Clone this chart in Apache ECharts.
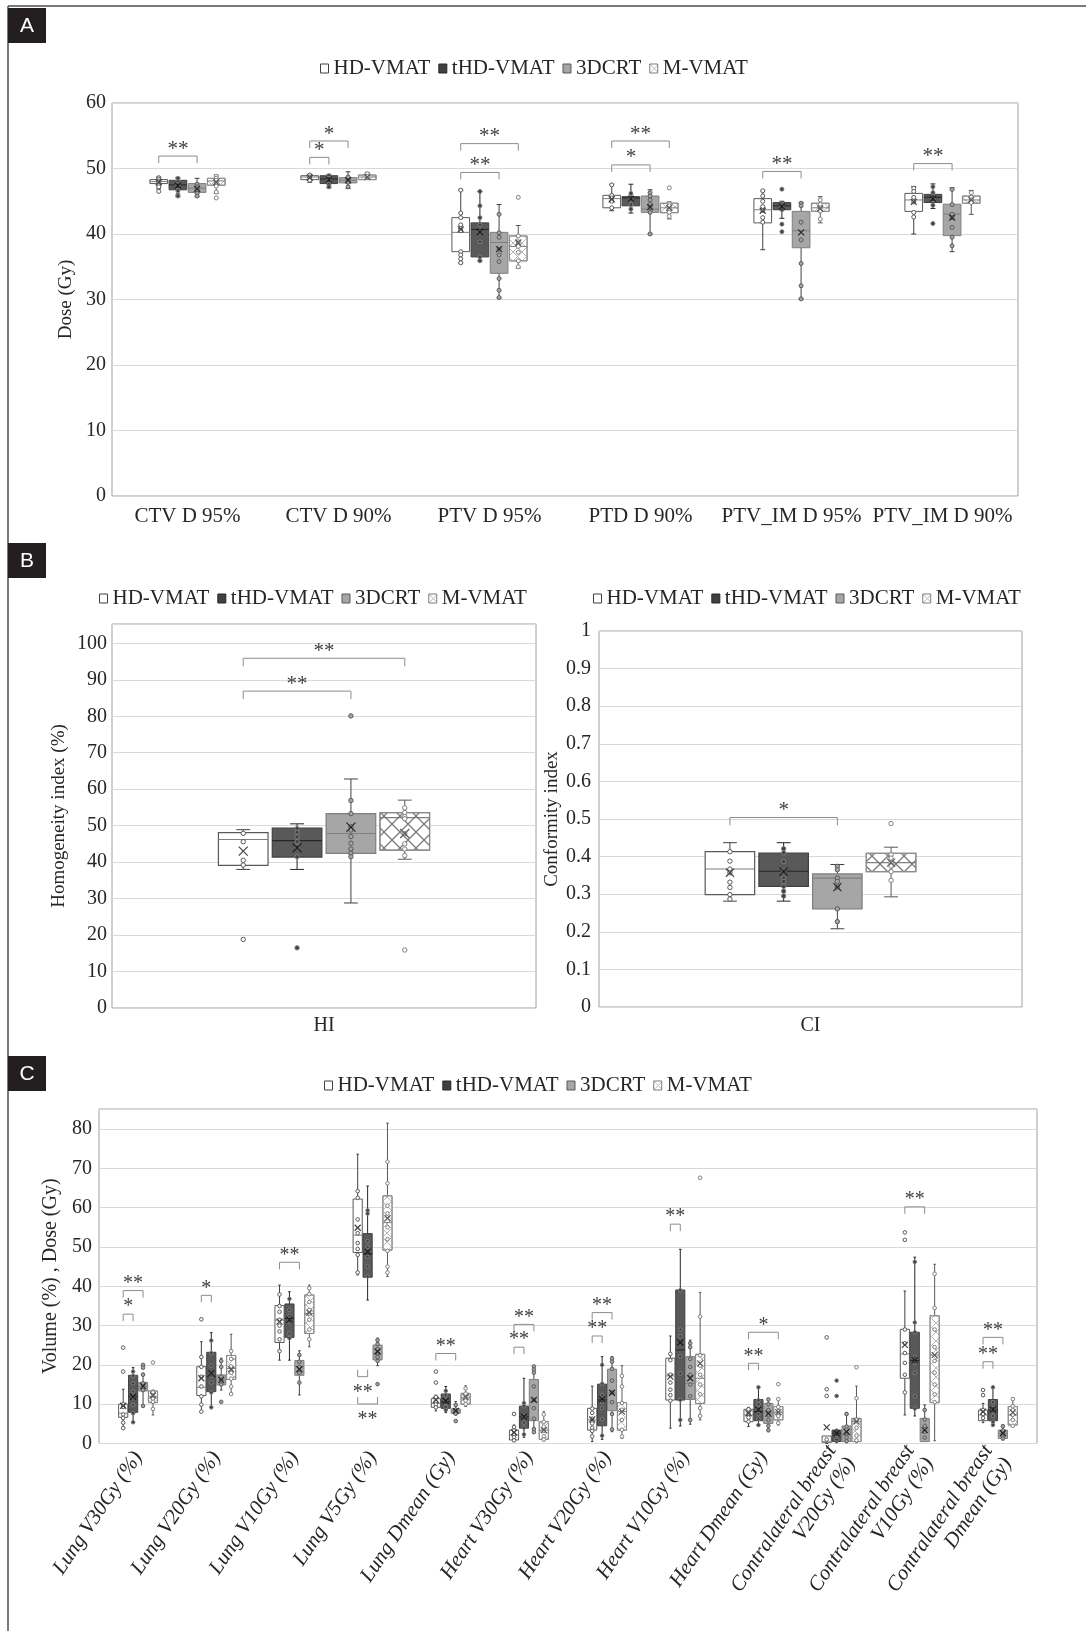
<!DOCTYPE html>
<html><head><meta charset="utf-8">
<script src="https://cdn.jsdelivr.net/npm/echarts@6/dist/echarts.min.js"></script>
<style>html,body{margin:0;padding:0;background:#fff}#c{width:1086px;height:1631px}</style>
</head><body><div id="c"></div><script>
// ---------------- DATA ----------------
const seriesNames = ['HD-VMAT', 'tHD-VMAT', '3DCRT', 'M-VMAT'];

const catsA = ['CTV D 95%', 'CTV D 90%', 'PTV D 95%', 'PTD D 90%', 'PTV_IM D 95%', 'PTV_IM D 90%'];
const catsHI = ['HI'];
const catsCI = ['CI'];
const catsC = ['Lung V30Gy (%)', 'Lung V20Gy (%)', 'Lung V10Gy (%)', 'Lung V5Gy (%)', 'Lung Dmean (Gy)',
  'Heart V30Gy (%)', 'Heart V20Gy (%)', 'Heart V10Gy (%)', 'Heart Dmean (Gy)',
  'Contralateral breast\nV20Gy (%)', 'Contralateral breast\nV10Gy (%)', 'Contralateral breast\nDmean (Gy)'];

const yTicksA = [0, 10, 20, 30, 40, 50, 60];
const yTicksHI = [0, 10, 20, 30, 40, 50, 60, 70, 80, 90, 100];
const yTicksCI = [0, 0.1, 0.2, 0.3, 0.4, 0.5, 0.6, 0.7, 0.8, 0.9, 1];
const yTicksC = [0, 10, 20, 30, 40, 50, 60, 70, 80];

// box stats per category: [lower whisker, Q1, median, Q3, upper whisker, mean]
const statsA_HD = [[46.9,47.7,48.0,48.3,48.7,47.9],[47.9,48.3,48.7,48.9,49.1,48.6],[35.6,37.3,40.25,42.5,46.7,40.7],[43.55,44.0,45.4,45.9,47.6,45.3],[37.6,41.7,43.7,45.4,46.6,43.55],[40.0,43.45,45.2,46.2,47.25,44.9]];
const statsA_tHD = [[45.7,46.75,47.5,48.2,48.6,47.4],[47.05,47.7,48.4,48.9,49.1,48.3],[35.9,36.5,40.7,41.7,46.5,40.3],[43.2,44.3,45.5,45.7,47.6,45.4],[42.4,43.7,44.3,44.8,45.0,44.2],[43.9,44.8,45.6,46.05,47.65,45.4]];
const statsA_3D = [[45.7,46.35,47.0,47.7,48.5,46.9],[46.95,47.8,48.2,48.6,49.5,48.2],[30.25,34.0,38.7,40.25,44.5,37.7],[40.0,43.3,43.8,45.8,46.75,44.1],[30.1,37.9,40.5,43.45,44.8,40.25],[37.3,39.75,43.05,44.55,47.05,42.5]];
const statsA_M = [[46.2,47.45,48.1,48.5,49.0,47.9],[48.3,48.3,48.7,49.0,49.4,48.7],[34.8,35.9,38.1,39.7,41.3,38.7],[42.3,43.25,44.0,44.7,44.9,44.0],[41.7,43.45,44.0,44.7,45.7,43.9],[43.0,44.7,45.2,45.8,46.65,45.2]];
const ptsA_HD = [[48.6,48.4,48.1,47.9,47.5,47.2,46.5],[49.0,48.7,48.5,48.2],[46.7,43.2,42.5,41.4,40.8,40.5,37.3,36.8,36.2,35.6],[47.5,45.9,45.5,45.0,44.0],[46.6,45.8,45.0,44.2,43.6,42.5,41.8],[47.0,46.5,45.6,44.9,43.3,42.6]];
const ptsA_tHD = [[48.5,48.0,47.5,47.1,46.6,46.0,45.8],[48.9,48.5,48.1,47.6,47.2],[46.5,44.3,42.5,41.4,40.3,38.8,36.5,35.9],[46.2,45.6,45.2,44.5,43.8],[46.85,44.6,44.3,43.7,41.5,40.35],[47.2,46.3,45.8,45.2,44.4,41.6]];
const ptsA_3D = [[47.6,47.2,46.9,46.6,46.2,45.8],[48.7,48.2,47.9,47.2],[43.0,40.2,39.5,37.7,36.8,35.8,33.2,31.4,30.3],[46.3,45.8,45.2,44.5,44.1,43.3,40.0],[44.7,44.3,41.8,39.1,35.5,32.1,30.1],[46.8,44.5,43.0,42.5,41.0,39.5,38.2]];
const ptsA_M = [[48.8,48.5,48.2,47.8,47.3,46.4,45.5],[49.2,48.8],[45.6,39.7,38.8,38.1,37.2,35.9,35.0],[47.05,44.6,44.3,43.8,43.3,42.7],[45.2,44.5,44.0,43.5,42.3],[46.3,45.6,45.2,44.8]];

const statsHI_HD = [[38.0,39.1,46.2,48.1,48.9,43.0]];
const statsHI_tHD = [[38.0,41.4,45.9,49.3,50.5,43.9]];
const statsHI_3D = [[28.8,42.4,47.85,53.3,62.8,49.6]];
const statsHI_M = [[40.8,43.3,52.2,53.6,57.0,47.85]];
const ptsHI_HD = [[47.9,45.6,40.5,39.2,18.8]];
const ptsHI_tHD = [[49.2,48.2,46.9,45.6,44.2,41.5,16.5]];
const ptsHI_3D = [[80.1,56.9,53.3,49.7,48.8,47.0,45.2,43.6,42.4,41.5]];
const ptsHI_M = [[54.9,53.6,52.5,51.9,47.8,45.0,43.6,41.8,15.9]];

const statsCI_HD = [[0.2815,0.299,0.367,0.413,0.437,0.357]];
const statsCI_tHD = [[0.2815,0.321,0.361,0.409,0.437,0.36]];
const statsCI_3D = [[0.208,0.261,0.343,0.354,0.379,0.319]];
const statsCI_M = [[0.293,0.36,0.384,0.4085,0.425,0.384]];
const ptsCI_HD = [[0.413,0.388,0.367,0.357,0.332,0.318,0.299,0.287]];
const ptsCI_tHD = [[0.421,0.41,0.387,0.361,0.343,0.334,0.321,0.308,0.295]];
const ptsCI_3D = [[0.374,0.365,0.343,0.334,0.319,0.261,0.227]];
const ptsCI_M = [[0.488,0.405,0.396,0.384,0.375,0.36,0.337]];

const statsC_HD = [[3.86,6.66,7.7,10.0,13.8,9.6],[8.1,12.2,14.3,19.55,25.9,16.6],[21.2,25.7,31.4,35.1,40.3,31.0],[42.9,48.6,53.0,62.2,73.6,54.9],[8.3,9.2,10.2,11.4,12.3,11.1],[0.5,0.9,2.2,3.4,4.7,2.8],[0.5,3.4,6.0,8.95,14.6,6.15],[3.9,11.05,17.2,21.7,27.35,17.0],[4.3,5.55,7.25,8.7,9.2,7.7],[0,0.3,0.4,1.9,1.9,4.1],[7.25,16.6,22.8,29.05,38.8,25.1],[5.3,5.8,7.25,8.5,10.2,8.1]];
const statsC_tHD = [[5.4,7.93,11.9,17.35,19.3,11.9],[9.2,13.2,17.0,23.2,28.2,17.9],[21.2,27.0,31.8,35.5,38.6,31.5],[36.5,42.3,48.2,53.4,65.5,48.8],[7.85,8.95,10.65,12.6,14.5,10.8],[1.6,3.9,6.8,9.5,16.6,6.8],[1.06,4.5,11.1,15.1,22.1,11.3],[4.45,11.05,23.8,39.05,49.4,25.7],[4.7,5.8,8.1,11.2,14.3,8.6],[0.2,0.5,2.6,3.4,3.4,2.6],[7.0,8.95,21.1,28.3,47.4,21.2],[4.7,5.8,8.5,11.2,14.3,8.6]];
const statsC_3D = [[9.55,13.36,14.5,15.55,17.9,14.6],[13.6,14.9,16.2,17.45,21.7,16.2],[12.35,17.35,19.6,21.1,23.6,18.9],[19.8,21.25,22.9,25.05,26.8,23.4],[7.25,7.7,8.3,8.8,10.65,8.3],[2.6,5.8,10.6,16.3,19.6,11.1],[3.0,8.35,12.8,18.9,22.1,12.9],[4.9,11.2,15.3,22.1,26.3,16.6],[3.0,5.1,7.7,10.2,11.5,7.6],[0.2,0.5,2.2,4.45,7.9,3.0],[0.5,0.5,3.4,6.4,9.8,3.4],[0.9,1.3,2.6,3.4,4.7,2.6]];
const statsC_M = [[7.25,10.4,11.9,13.36,13.6,12.2],[12.6,16.3,19.1,22.4,27.8,18.9],[24.6,28.0,33.1,37.8,40.3,33.3],[42.5,49.2,56.2,63.0,81.5,57.3],[9.4,10.0,11.65,12.75,14.7,11.8],[0.7,1.05,3.4,5.55,8.1,3.4],[1.3,3.4,8.1,10.4,19.8,8.1],[6.0,10.2,16.6,22.7,38.45,20.4],[4.7,6.0,7.85,9.4,11.5,8.0],[0.2,0.5,5.55,6.4,14.6,5.6],[0.7,10.4,22.5,32.5,45.6,22.5],[4.3,4.7,7.25,9.4,11.7,7.9]];
const ptsC_HD = [[24.4,18.3,10.0,9.3,7.4,6.5,5.3,3.9],[31.6,22.0,19.5,17.0,14.5,12.0,9.9,8.1],[37.9,35.0,33.5,31.5,30.0,28.5,26.5,23.5],[64.2,62.5,57.0,53.5,51.0,49.5,48.0,43.5],[18.3,15.5,11.8,10.6,9.9,9.2],[7.5,4.2,3.3,2.4,1.6,0.8],[8.9,7.8,6.3,5.1,4.0,3.2,1.8],[22.8,21.2,17.5,15.5,13.7,12.3,10.9],[8.7,7.6,6.6,5.6],[27.0,13.8,12.1,1.0],[53.7,51.8,29.0,25.5,23.0,20.5,17.5,13.0],[13.6,12.3,8.5,7.5,6.5]];
const ptsC_tHD = [[18.3,17.2,15.3,13.2,11.9,9.8,7.7,5.4],[26.2,23.0,19.8,17.2,15.5,13.0,9.2],[36.8,34.0,32.5,31.0,28.0,26.8],[59.3,58.5,51.5,50.0,47.5,45.0,42.5],[13.4,12.3,11.0,10.3,9.3,8.5],[10.3,9.5,7.0,5.3,4.0,2.3],[20.0,15.2,12.3,10.6,9.0,6.2,2.0],[39.0,29.0,27.3,22.2,17.8,11.1,6.0],[14.3,11.0,10.0,8.9,7.5,6.2,4.7],[16.0,12.1,3.3,2.2,1.0],[46.2,30.8,28.3,22.0,20.5,18.0,12.0,8.9],[14.3,10.5,9.0,8.2,7.0,5.5,4.7]];
const ptsC_3D = [[20.0,19.3,17.5,15.3,14.5,13.6,9.55],[21.0,19.5,17.0,16.0,15.0,10.6],[22.5,20.8,19.5,18.0,15.5],[26.3,25.3,24.0,23.0,22.0,21.0,15.1],[9.8,8.6,8.1,7.6,5.7],[19.6,18.8,18.0,14.5,11.1,9.0,6.3,3.7,2.9],[21.6,20.8,19.0,16.0,13.0,10.5,7.5,3.6],[25.5,24.5,21.5,19.5,17.5,15.0,12.0,6.0],[11.2,10.0,8.5,7.2,6.0,4.5,3.4],[7.5,4.3,2.6,1.5,0.6],[8.5,6.1,4.5,3.0,1.5],[4.4,3.3,2.3,1.3]];
const ptsC_M = [[20.6,13.0,12.2,11.4,10.6,8.8],[23.5,21.5,19.6,18.0,16.5,14.5,12.6],[39.5,38.0,36.0,34.0,33.0,31.5,29.0,26.5],[71.7,66.2,60.5,58.5,55.0,52.0,49.0,45.0,43.5],[14.0,12.7,11.7,10.9,10.0],[7.4,5.5,4.3,3.2,1.8,1.0],[17.2,14.5,10.3,8.6,6.0,3.5,1.8],[67.6,32.3,22.4,19.8,17.5,15.0,12.5,9.0,7.0],[15.1,11.3,9.3,8.2,7.0,5.2],[19.4,11.5,6.0,4.0,2.0,0.8],[43.2,34.5,29.0,24.5,21.0,18.0,15.0,12.5,10.5],[11.3,9.5,8.5,7.3,6.0,4.5]];

// significance brackets: [category, from group, to group, bracket value, direction (1 = legs down, -1 = legs up)]
const bracketsA = [[0,0,2,51.9,1],[1,0,2,54.2,1],[1,0,1,51.7,1],[2,0,3,53.8,1],[2,0,2,49.4,1],[3,0,3,54.2,1],[3,0,2,50.55,1],[4,0,2,49.55,1],[5,0,2,50.75,1]];
const bracketLabelsA = ['**','*','*','**','**','**','*','**','**'];
const bracketsHI = [[0,0,3,95.9,1],[0,0,2,86.9,1]];
const bracketLabelsHI = ['**','**'];
const bracketsCI = [[0,0,2,0.504,1]];
const bracketLabelsCI = ['*'];
const bracketsC = [[0,0,2,38.9,1],[0,0,1,32.9,1],[1,0,1,37.7,1],[2,0,2,46.1,1],[3,0,1,17.0,-1],[3,0,2,10.05,-1],[4,0,2,22.9,1],[5,0,2,30.3,1],[5,0,1,24.5,1],[6,0,2,33.3,1],[6,0,1,27.35,1],[7,0,1,55.8,1],[8,0,3,28.3,1],[8,0,1,20.4,1],[10,0,2,60.2,1],[11,0,2,27.0,1],[11,0,1,20.8,1]];
const bracketLabelsC = ['**','*','*','**','**','**','**','**','**','**','**','**','*','**','**','**','**'];

// ---------------- STYLE ----------------
const SERIF = '"Liberation Serif", "Times New Roman", serif';
const TXT = '#262626';
const SP = 0.127;   // box spacing as fraction of band
const BW = 0.117;   // box width as fraction of band
const GS = [
  {fill: '#ffffff', stroke: '#595959', med: '#7f7f7f', whisker: '#404040', ptFill: '#ffffff', ptStroke: '#595959', mean: '#404040'},
  {fill: '#595959', stroke: '#404040', med: '#262626', whisker: '#262626', ptFill: '#404040', ptStroke: '#808080', mean: '#1a1a1a'},
  {fill: '#a6a6a6', stroke: '#7f7f7f', med: '#7f7f7f', whisker: '#404040', ptFill: '#a6a6a6', ptStroke: '#595959', mean: '#262626'},
  {fill: '#ffffff', stroke: '#8c8c8c', med: '#7f7f7f', whisker: '#595959', ptFill: '#ffffff', ptStroke: '#7f7f7f', mean: '#595959'}
];
function makeHatch(size, color, lw) {
  const c = document.createElement('canvas');
  c.width = size; c.height = size;
  const x = c.getContext('2d');
  x.strokeStyle = color; x.lineWidth = lw;
  x.beginPath(); x.moveTo(0, 0); x.lineTo(size, size); x.moveTo(size, 0); x.lineTo(0, size); x.stroke();
  return {image: c, repeat: 'repeat'};
}
const hatchSmall = makeHatch(9, '#b5b5b5', 1);
const hatchBig = makeHatch(16, '#7a7a7a', 1.3);

function makeBoxRender(g, pts, o) {
  const s = GS[g];
  return function (params, api) {
    const cat = api.value(0);
    const band = api.size([1, 0])[0];
    const cx = api.coord([cat, 0])[0] + (g - 1.5) * SP * band;
    const w = BW * band;
    const Y = v => api.coord([cat, v])[1];
    const lo = Y(api.value(1)), q1 = Y(api.value(2)), md = Y(api.value(3)),
      q3 = Y(api.value(4)), hi = Y(api.value(5)), mn = Y(api.value(6));
    const cap = w * 0.28;
    const ls = {stroke: s.whisker, lineWidth: 1};
    const ch = [];
    if (hi < q3 - 0.5) {
      ch.push({type: 'line', shape: {x1: cx, y1: hi, x2: cx, y2: q3}, style: ls});
      ch.push({type: 'line', shape: {x1: cx - cap / 2, y1: hi, x2: cx + cap / 2, y2: hi}, style: ls});
    }
    if (lo > q1 + 0.5) {
      ch.push({type: 'line', shape: {x1: cx, y1: q1, x2: cx, y2: lo}, style: ls});
      ch.push({type: 'line', shape: {x1: cx - cap / 2, y1: lo, x2: cx + cap / 2, y2: lo}, style: ls});
    }
    const r = {x: cx - w / 2, y: q3, width: w, height: Math.max(q1 - q3, 1)};
    ch.push({type: 'rect', shape: r, style: {fill: s.fill, stroke: s.stroke, lineWidth: o.lw}});
    if (g === 3) ch.push({type: 'rect', shape: r, style: {fill: o.hatch, stroke: s.stroke, lineWidth: o.lw}});
    ch.push({type: 'line', shape: {x1: cx - w / 2, y1: md, x2: cx + w / 2, y2: md}, style: {stroke: s.med, lineWidth: o.lw}});
    (pts[params.dataIndex] || []).forEach(v => {
      ch.push({type: 'circle', shape: {cx: cx, cy: Y(v), r: o.r}, style: {fill: s.ptFill, stroke: s.ptStroke, lineWidth: 1}});
    });
    const h = o.x / 2;
    ch.push({type: 'line', shape: {x1: cx - h, y1: mn - h, x2: cx + h, y2: mn + h}, style: {stroke: s.mean, lineWidth: 1.2}});
    ch.push({type: 'line', shape: {x1: cx - h, y1: mn + h, x2: cx + h, y2: mn - h}, style: {stroke: s.mean, lineWidth: 1.2}});
    return {type: 'group', children: ch};
  };
}

function makeBracketRender(labels, leg, fs) {
  return function (params, api) {
    const cat = api.value(0), g1 = api.value(1), g2 = api.value(2), v = api.value(3), dir = api.value(4);
    const band = api.size([1, 0])[0];
    const c = api.coord([cat, v]);
    const x1 = c[0] + (g1 - 1.5) * SP * band, x2 = c[0] + (g2 - 1.5) * SP * band, y = c[1];
    const l = dir > 0 ? leg : -leg;
    return {type: 'group', children: [
      {type: 'polyline', shape: {points: [[x1, y + l], [x1, y], [x2, y], [x2, y + l]]}, style: {stroke: '#8c8c8c', lineWidth: 1, fill: null}},
      {type: 'text', style: {text: labels[params.dataIndex], x: (x1 + x2) / 2, y: dir > 0 ? y - 7 : y + 16,
        align: 'center', verticalAlign: 'middle', fontSize: fs, fontFamily: SERIF, fill: '#404040'}}
    ]};
  };
}

// ---------------- BUILD ----------------
const panels = [
  {stats: [statsA_HD, statsA_tHD, statsA_3D, statsA_M], pts: [ptsA_HD, ptsA_tHD, ptsA_3D, ptsA_M], br: bracketsA, bl: bracketLabelsA, o: {r: 2, x: 6, lw: 1, hatch: hatchSmall}, leg: 7, fs: 21},
  {stats: [statsHI_HD, statsHI_tHD, statsHI_3D, statsHI_M], pts: [ptsHI_HD, ptsHI_tHD, ptsHI_3D, ptsHI_M], br: bracketsHI, bl: bracketLabelsHI, o: {r: 2.2, x: 9, lw: 1.2, hatch: hatchBig}, leg: 8, fs: 21},
  {stats: [statsCI_HD, statsCI_tHD, statsCI_3D, statsCI_M], pts: [ptsCI_HD, ptsCI_tHD, ptsCI_3D, ptsCI_M], br: bracketsCI, bl: bracketLabelsCI, o: {r: 2.2, x: 8, lw: 1.2, hatch: hatchBig}, leg: 8, fs: 21},
  {stats: [statsC_HD, statsC_tHD, statsC_3D, statsC_M], pts: [ptsC_HD, ptsC_tHD, ptsC_3D, ptsC_M], br: bracketsC, bl: bracketLabelsC, o: {r: 1.8, x: 6, lw: 1, hatch: hatchSmall}, leg: 7, fs: 20}
];

const series = [];
panels.forEach((p, pi) => {
  p.stats.forEach((st, g) => {
    series.push({
      type: 'custom', name: seriesNames[g], xAxisIndex: pi, yAxisIndex: pi,
      itemStyle: {color: GS[g].fill, borderColor: GS[g].stroke},
      data: st.map((row, i) => [i].concat(row)),
      encode: {x: 0, y: [1, 2, 3, 4, 5, 6]},
      renderItem: makeBoxRender(g, p.pts[g], p.o), z: 3, silent: true
    });
  });
  series.push({
    type: 'custom', name: 'sig' + pi, xAxisIndex: pi, yAxisIndex: pi,
    data: p.br, encode: {x: 0, y: 3},
    renderItem: makeBracketRender(p.bl, p.leg, p.fs), z: 4, silent: true
  });
});

const grids = [
  {left: 112, top: 103, width: 906, height: 393},
  {left: 112, top: 624, width: 424, height: 384},
  {left: 599, top: 631, width: 423, height: 376},
  {left: 99, top: 1109, width: 938, height: 334.5}
].map(g => Object.assign(g, {show: true, borderColor: '#a0a0a0', borderWidth: 1, backgroundColor: 'transparent', containLabel: false}));

function xAx(gi, cats, extra) {
  return Object.assign({
    type: 'category', gridIndex: gi, data: cats,
    axisLine: {show: false}, axisTick: {show: false}, splitLine: {show: false},
    axisLabel: {interval: 0, fontFamily: SERIF, fontSize: 21, color: TXT, margin: 10}
  }, extra || {});
}
function yAx(gi, ticks, max, name, gap, nfs, margin) {
  return {
    type: 'value', gridIndex: gi, min: ticks[0], max: max, interval: ticks[1] - ticks[0],
    name: name, nameLocation: 'middle', nameGap: gap,
    nameTextStyle: {fontFamily: SERIF, fontSize: nfs, color: TXT},
    axisLine: {show: false}, axisTick: {show: false},
    splitLine: {lineStyle: {color: '#d9d9d9', width: 1}},
    axisLabel: {fontFamily: SERIF, fontSize: 20, color: TXT, margin: margin, showMaxLabel: max === ticks[ticks.length - 1]}
  };
}

const legendStyles = [
  {color: '#ffffff', borderColor: '#404040', borderWidth: 1},
  {color: '#404040', borderColor: '#262626', borderWidth: 1},
  {color: '#a6a6a6', borderColor: '#595959', borderWidth: 1},
  {color: hatchSmall, borderColor: '#7f7f7f', borderWidth: 1}
];
function legendAt(left, top) {
  return {
    left: left, top: top, padding: 0, itemWidth: 8, itemHeight: 9, itemGap: 8, selectedMode: false,
    textStyle: {fontFamily: SERIF, fontSize: 21, color: TXT},
    data: seriesNames.map((n, i) => ({name: n, icon: 'rect', itemStyle: legendStyles[i]}))
  };
}

function panelTag(letter, y) {
  return {type: 'group', children: [
    {type: 'rect', shape: {x: 8, y: y, width: 38, height: 35}, style: {fill: '#231f20'}},
    {type: 'text', style: {text: letter, x: 27, y: y + 18, align: 'center', verticalAlign: 'middle',
      fontFamily: '"Liberation Sans Narrow", "Liberation Sans", sans-serif', fontSize: 21, fill: '#ffffff'}}
  ]};
}

const option = {
  animation: false,
  backgroundColor: '#ffffff',
  grid: grids,
  xAxis: [
    xAx(0, catsA),
    xAx(1, catsHI, {axisLabel: {interval: 0, fontFamily: SERIF, fontSize: 20, color: TXT, margin: 8}}),
    xAx(2, catsCI, {axisLabel: {interval: 0, fontFamily: SERIF, fontSize: 20, color: TXT, margin: 9}}),
    xAx(3, catsC, {axisLabel: {interval: 0, rotate: 56, fontFamily: SERIF, fontStyle: 'italic', fontSize: 21, lineHeight: 23, color: TXT, margin: 10}})
  ],
  yAxis: [
    yAx(0, yTicksA, 60, 'Dose (Gy)', 34, 19, 6),
    yAx(1, yTicksHI, 105.3, 'Homogeneity index (%)', 43, 19, 5),
    yAx(2, yTicksCI, 1, 'Conformity index', 37, 19, 8),
    yAx(3, yTicksC, 85.1, 'Volume (%) , Dose (Gy)', 35, 20, 7)
  ],
  legend: [legendAt(320, 58), legendAt(99, 588), legendAt(593, 588), legendAt(324, 1075)],
  graphic: [
    {type: 'line', shape: {x1: 8, y1: 6, x2: 1086, y2: 6}, style: {stroke: '#4d4d4d', lineWidth: 1.5}},
    {type: 'line', shape: {x1: 8, y1: 6, x2: 8, y2: 1631}, style: {stroke: '#4d4d4d', lineWidth: 1.5}},
    panelTag('A', 8), panelTag('B', 543), panelTag('C', 1056)
  ],
  series: series
};

const chart = echarts.init(document.getElementById('c'), null, {renderer: 'canvas'});
chart.setOption(option);
</script></body></html>
